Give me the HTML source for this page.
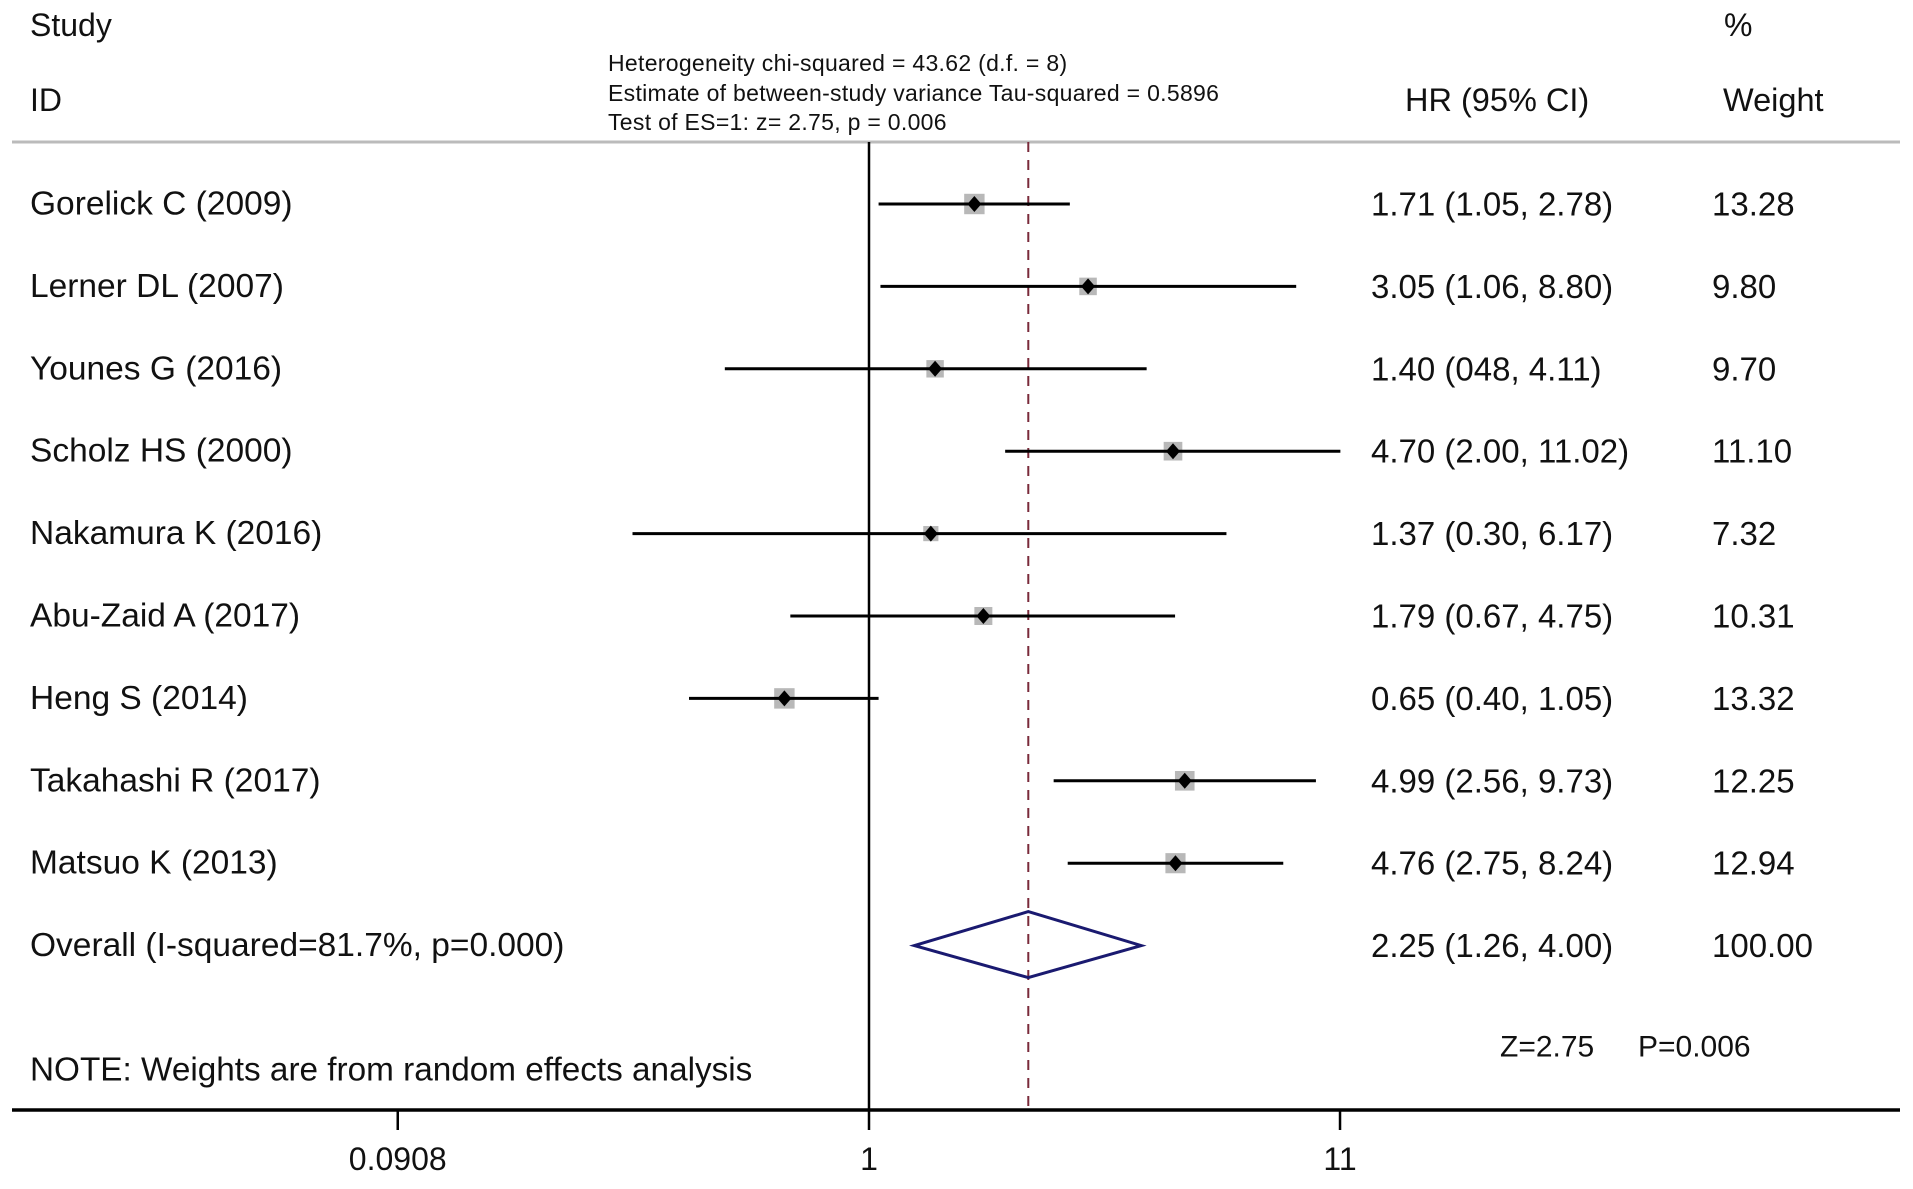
<!DOCTYPE html>
<html><head><meta charset="utf-8"><style>
body{margin:0;background:#fff;}
svg text{font-family:"Liberation Sans",sans-serif;fill:#111;}
</style></head><body>
<svg id="c" width="1913" height="1184" xmlns="http://www.w3.org/2000/svg">
<g id="g"></g>
</svg>
<script>
const studies=["Gorelick C (2009)","Lerner DL (2007)","Younes G (2016)","Scholz HS (2000)","Nakamura K (2016)","Abu-Zaid A (2017)","Heng S (2014)","Takahashi R (2017)","Matsuo K (2013)"];
const hr=[1.71,3.05,1.40,4.70,1.37,1.79,0.65,4.99,4.76];
const lo=[1.05,1.06,0.48,2.00,0.30,0.67,0.40,2.56,2.75];
const hi=[2.78,8.80,4.11,11.02,6.17,4.75,1.05,9.73,8.24];
const hrText=["1.71 (1.05, 2.78)","3.05 (1.06, 8.80)","1.40 (048, 4.11)","4.70 (2.00, 11.02)","1.37 (0.30, 6.17)","1.79 (0.67, 4.75)","0.65 (0.40, 1.05)","4.99 (2.56, 9.73)","4.76 (2.75, 8.24)"];
const weights=[13.28,9.80,9.70,11.10,7.32,10.31,13.32,12.25,12.94];
const overall=[2.25,1.26,4.00];
const tickVals=[0.0908,1,11];
const tickLabels=["0.0908","1","11"];

const NS="http://www.w3.org/2000/svg";
const g=document.getElementById('g');
const X=v=>869+Math.log10(v)*452.3;
const Y=i=>204+i*82.4;
function el(t,a,txt){const e=document.createElementNS(NS,t);for(const k in a)e.setAttribute(k,a[k]);if(txt!==undefined)e.textContent=txt;g.appendChild(e);return e;}
function tx(x,y,s,size,name,anchor,ls){const e=el('text',{x:x,y:y,'font-size':size,'dominant-baseline':'central','text-anchor':anchor||'start'},s);if(ls)e.setAttribute('letter-spacing',ls);return e;}

tx(30,25,"Study",32,'study-header');
tx(30,100,"ID",32,'id-header');
tx(1724,25,"%",32,'percent-header');
tx(1405,100,"HR (95% CI)",32.5,'hr-header');
tx(1723,100,"Weight",32.5,'weight-header');
tx(608,63,"Heterogeneity chi-squared = 43.62 (d.f. = 8)",23,'heterogeneity-text',null,0.3);
tx(608,93,"Estimate of between-study variance Tau-squared = 0.5896",23,'tau-text',null,0.3);
tx(608,122,"Test of ES=1: z= 2.75, p = 0.006",23,'test-text',null,0.3);

let e=el('line',{x1:12,x2:1900,y1:142,y2:142,stroke:'#bbb','stroke-width':3});

e=el('line',{x1:869,x2:869,y1:142,y2:1110,stroke:'#000','stroke-width':2.5});

e=el('line',{x1:X(overall[0]),x2:X(overall[0]),y1:142,y2:1110,stroke:'#7a2a3a','stroke-width':2,'stroke-dasharray':'10,8'});


for(let i=0;i<studies.length;i++){
  const y=Y(i);
  tx(30,y,studies[i],33.5,'study-label');
  tx(1371,y,hrText[i],33,'hr-value');
  tx(1712,y,weights[i].toFixed(2),33,'weight-value');
  const s=Math.sqrt(weights[i])*5.6;
  e=el('rect',{x:X(hr[i])-s/2,y:y-s/2,width:s,height:s,fill:'#b8b8b8'});
  
  e=el('line',{x1:X(lo[i]),x2:X(hi[i]),y1:y,y2:y,stroke:'#000','stroke-width':3});
  
  const cx=X(hr[i]);
  e=el('polygon',{points:`${cx-7},${y} ${cx},${y-8} ${cx+7},${y} ${cx},${y+8}`,fill:'#000'});
  
}
const oy=Y(9);
tx(30,oy,"Overall (I-squared=81.7%, p=0.000)",33.5,'overall-label');
tx(1371,oy,"2.25 (1.26, 4.00)",33,'overall-hr');
tx(1712,oy,"100.00",33,'overall-weight');
e=el('polygon',{points:`${X(overall[1])},${oy} ${X(overall[0])},${oy-34} ${X(overall[2])},${oy} ${X(overall[0])},${oy+32}`,fill:'none',stroke:'#1a1a70','stroke-width':3});


tx(30,1070,"NOTE: Weights are from random effects analysis",33.3,'note-text');
tx(1500,1047,"Z=2.75",30,'z-stat');
tx(1638,1047,"P=0.006",30,'p-stat');

e=el('line',{x1:12,x2:1900,y1:1110,y2:1110,stroke:'#000','stroke-width':3.5});

for(let i=0;i<tickVals.length;i++){
  const x=X(tickVals[i]);
  e=el('line',{x1:x,x2:x,y1:1110,y2:1130,stroke:'#000','stroke-width':2.5});
  
  tx(x,1159,tickLabels[i],32,'x-tick-label','middle');
}
</script>
</body></html>
